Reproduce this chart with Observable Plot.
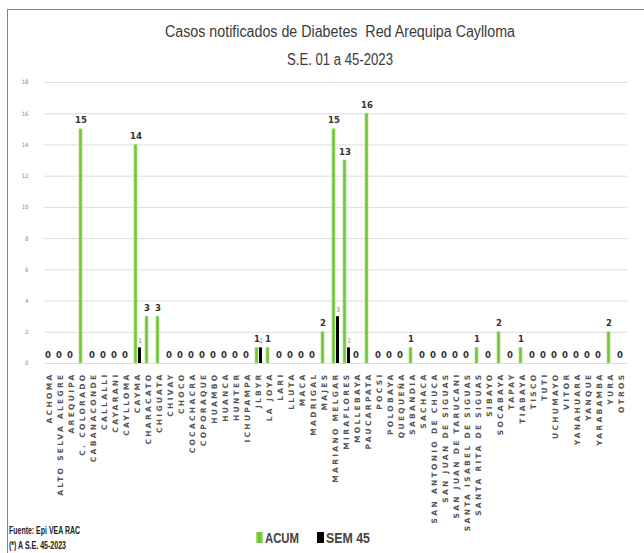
<!DOCTYPE html>
<html><head><meta charset="utf-8">
<script src="https://cdn.jsdelivr.net/npm/d3@7"></script>
<script src="https://cdn.jsdelivr.net/npm/@observablehq/plot@0.6"></script>
<style>
body{margin:0;background:#fff;}
#wrap{position:relative;width:644px;height:553px;overflow:hidden;font-family:"Liberation Sans",Arial,sans-serif;}
#frame{position:absolute;left:7px;top:9px;width:700px;height:600px;border-left:1px solid #3cb35a;border-top:1px solid #3cb35a;box-sizing:border-box;}
#chart{position:absolute;left:0;top:0;}
.ab{position:absolute;white-space:nowrap;}
.ab span{display:inline-block;transform-origin:0 50%;}
#t1,#t2{color:#3a3a3a;font-size:16px;line-height:18px;}
#t1{top:23px;}
#t2{top:51px;}
.foot{font-size:10px;font-weight:bold;color:#222;line-height:11px;}
#f1{top:525px;left:9px;}
#f2{top:540px;left:9px;}
.leg{font-size:15px;font-weight:bold;color:#444;line-height:16px;top:530px;}
.sw{position:absolute;width:7px;height:11px;top:532px;}
#chart g[aria-label*="fx-axis"] text{letter-spacing:2.3px;}
</style></head><body>
<div id="wrap">
  <div id="chart"></div>
  <div id="frame"></div>
  <div class="ab" id="t1"><span data-l="165" data-w="350">Casos notificados de Diabetes&nbsp; Red Arequipa Caylloma</span></div>
  <div class="ab" id="t2"><span data-l="287" data-w="106">S.E. 01 a 45-2023</span></div>
  <div class="ab foot" id="f1"><span data-l="9" data-w="71">Fuente: Epi VEA RAC</span></div>
  <div class="ab foot" id="f2"><span data-l="9" data-w="57">(*) A S.E. 45-2023</span></div>
  <div class="sw" style="left:256px;background:linear-gradient(90deg,#a9df7e,#6fc435 40%,#6fc435 60%,#a9df7e);"></div>
  <div class="ab leg"><span data-l="265" data-w="34" id="l1"></span></div>
  <div class="sw" style="left:317px;background:#000;"></div>
  <div class="ab leg"><span data-l="326" data-w="44" id="l2"></span></div>
</div>
<script>
const categories = ["ACHOMA","ALTO SELVA ALEGRE","AREQUIPA","C. COLORADO","CABANACONDE","CALLALLI","CAYARANI","CAYLLOMA","CAYMA","CHARACATO","CHIGUATA","CHIVAY","CHOCO","COCACHACRA","COPORAQUE","HUAMBO","HUANCA","HUNTER","ICHUPAMPA","JLBYR","LA JOYA","LARI","LLUTA","MACA","MADRIGAL","MAJES","MARIANO MELGAR","MIRAFLORES","MOLLEBAYA","PAUCARPATA","POCSI","POLOBAYA","QUEQUEÑA","SABANDIA","SACHACA","SAN ANTONIO DE CHUCA","SAN JUAN DE SIGUAS","SAN JUAN DE TARUCANI","SANTA ISABEL DE SIGUAS","SANTA RITA DE SIGUAS","SIBAYO","SOCABAYA","TAPAY","TIABAYA","TISCO","TUTI","UCHUMAYO","VITOR","YANAHUARA","YANQUE","YARABAMBA","YURA","OTROS"];
const acum  = [0,0,0,15,0,0,0,0,14,3,3,0,0,0,0,0,0,0,0,1,1,0,0,0,0,2,15,13,0,16,0,0,0,1,0,0,0,0,0,1,0,2,0,1,0,0,0,0,0,0,0,2,0];
const sem45 = [0,0,0,0,0,0,0,0,1,0,0,0,0,0,0,0,0,0,0,1,0,0,0,0,0,0,3,1,0,0,0,0,0,0,0,0,0,0,0,0,0,0,0,0,0,0,0,0,0,0,0,0,0];
const series = ["ACUM","SEM 45"];
const yTicks = [0,2,4,6,8,10,12,14,16,18];

document.getElementById("l1").textContent = series[0];
document.getElementById("l2").textContent = series[1];

const rows = categories.flatMap((c,i)=>[
  {cat:c, serie:series[0], value:acum[i]},
  {cat:c, serie:series[1], value:sem45[i]}
]);
const rowsA = rows.filter(d=>d.serie===series[0]);
const rowsS = rows.filter(d=>d.serie===series[1]);

const chart = Plot.plot({
  width:644, height:553,
  marginLeft:32, marginRight:5, marginTop:82, marginBottom:190,
  style:{fontFamily:"'DejaVu Sans Condensed','DejaVu Sans',sans-serif", background:"transparent"},
  fx:{domain:categories, padding:0, label:null},
  x:{domain:series, paddingInner:0.15, paddingOuter:0.3, axis:null},
  y:{domain:[0,18], label:null},
  marks:[
    Plot.gridY(yTicks,{stroke:"#dcdcdc", strokeOpacity:1}),
    Plot.axisY(yTicks,{tickSize:0, tickPadding:8, dx:-8, fontSize:6, fill:"#888", label:null}),
    Plot.axisFx({anchor:"bottom", tickRotate:-90, tickSize:0, tickPadding:9, fontSize:7.5, fontWeight:"bold", fill:"#555", label:null, fontFamily:"DejaVu Sans"}),
    Plot.barY(rowsA,{fx:"cat", x:"serie", y:"value", fill:"#72c63a", stroke:"#a9df7e", strokeWidth:0.7}),
    Plot.barY(rowsS,{fx:"cat", x:"serie", y:"value", fill:"#000"}),
    Plot.text(rowsA,{fx:"cat", x:"serie", y:"value", text:d=>String(d.value), lineAnchor:"bottom", dy:-6, fontSize:9.5, fontWeight:"bold", fill:"#333"}),
    Plot.text(rowsS.filter(d=>d.value>0),{fx:"cat", x:"serie", y:"value", text:d=>String(d.value), lineAnchor:"bottom", dy:-5, fontSize:6.5, fill:"#777"})
  ]
});
document.getElementById("chart").appendChild(chart);

// fit texts horizontally to the reference's narrow font widths
document.querySelectorAll(".ab span").forEach(s=>{
  const w = s.getBoundingClientRect().width;
  const tw = +s.dataset.w, l = +s.dataset.l;
  s.parentNode.style.left = l + "px";
  s.style.transform = `scaleX(${tw/w})`;
});
</script>
</body></html>
